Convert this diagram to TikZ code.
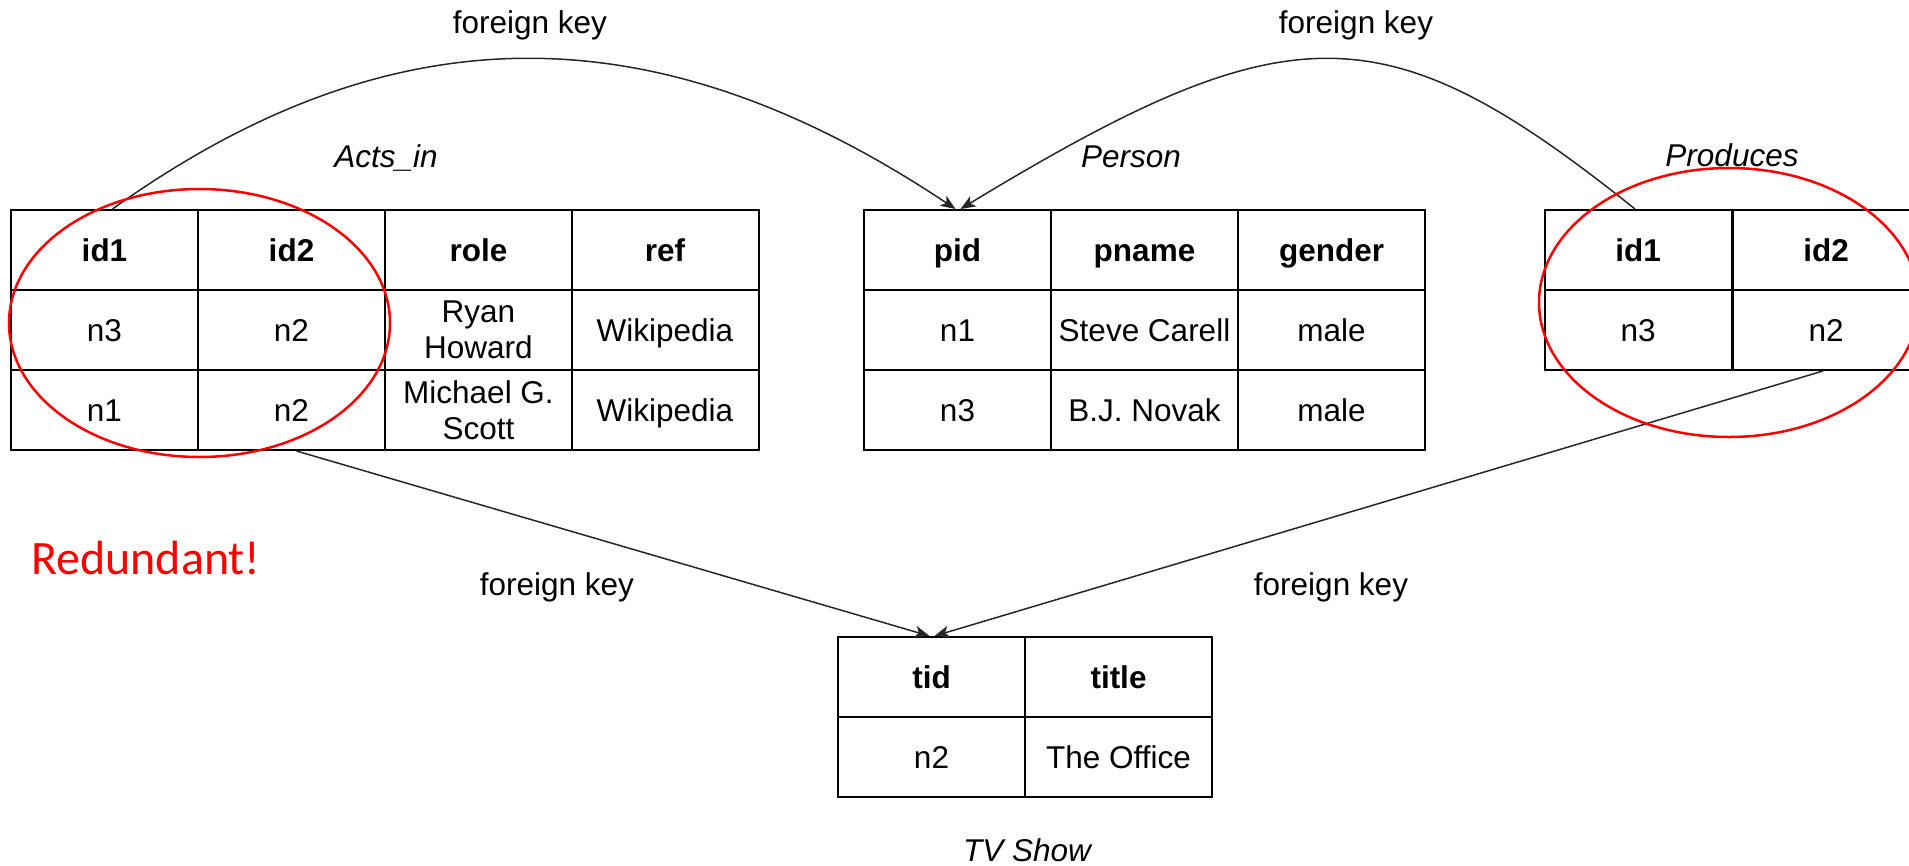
\documentclass[tikz,border=0pt]{standalone}
\usepackage{fontspec}
\setmainfont{Liberation Sans}
\newfontfamily\calibfont{Carlito}
\usetikzlibrary{arrows.meta}
\begin{document}
\begin{tikzpicture}[x=1pt,y=-1pt,
  txt/.style={font=\fontsize{31.5}{36}\selectfont},
  cellbase/.style={txt, draw=black, line width=2pt, minimum width=187pt,
    minimum height=80pt, inner sep=0pt, align=center},
  cell/.style={cellbase, text height=23pt, text depth=0pt},
  cellii/.style={cellbase},
  head/.style={cell, font=\fontsize{31.5}{36}\selectfont\bfseries},
  lbl/.style={txt, anchor=base, inner sep=0pt},
  tname/.style={lbl, font=\fontsize{31.5}{36}\selectfont\itshape},
  fk/.style={line width=1.5pt, draw=black!85,
    -{Stealth[length=15pt,width=12pt,inset=4pt]}},
  redring/.style={draw=red, line width=2.5pt}
]
\useasboundingbox (0,0) rectangle (1909,865);
\clip (0,0) rectangle (1909,865);

% Acts_in
\node[head] (a01) at (104.5,250) {id1};
\node[head] (a02) at (291.5,250) {id2};
\node[head] (a03) at (478.5,250) {role};
\node[head] (a04) at (665,250)   {ref};
\node[cell] (a11) at (104.5,330) {n3};
\node[cell] (a12) at (291.5,330) {n2};
\node[cellii] (a13) at (478.5,330) {Ryan\\Howard};
\node[cell] (a14) at (665,330)   {Wikipedia};
\node[cell] (a21) at (104.5,410) {n1};
\node[cell] (a22) at (291.5,410) {n2};
\node[cellii] (a23) at (478.5,410) {Michael G.\\Scott};
\node[cell] (a24) at (665,410)   {Wikipedia};

% Person
\node[head] (p01) at (957.5,250)  {pid};
\node[head] (p02) at (1144.5,250) {pname};
\node[head] (p03) at (1331.5,250) {gender};
\node[cell] (p11) at (957.5,330)  {n1};
\node[cell] (p12) at (1144.5,330) {Steve Carell};
\node[cell] (p13) at (1331.5,330) {male};
\node[cell] (p21) at (957.5,410)  {n3};
\node[cell] (p22) at (1144.5,410) {B.J. Novak};
\node[cell] (p23) at (1331.5,410) {male};

% Produces
\node[head] (r01) at (1638,250) {id1};
\node[head] (r02) at (1826,250) {id2};
\node[cell] (r11) at (1638,330) {n3};
\node[cell] (r12) at (1826,330) {n2};

% TV Show
\node[head] (t01) at (931.5,677)  {tid};
\node[head] (t02) at (1118.5,677) {title};
\node[cell] (t11) at (931.5,757)  {n2};
\node[cell] (t12) at (1118.5,757) {The Office};

% table names
\node[tname] (nA) at (386,167)  {Acts\_in};
\node[tname] (nP) at (1131,167) {Person};
\node[tname] (nR) at (1732,166) {Produces};
\node[tname] (nT) at (1027,861) {TV Show};

% foreign keys
\draw[fk] ([xshift=8pt]a01.north) .. controls +(280,-200) and +(-300,-200) .. ([xshift=-2pt]p01.north);
\draw[fk] ([xshift=-3pt]r01.north) .. controls +(-250,-200) and +(330,-200) .. ([xshift=3pt]p01.north);
\draw[fk] ([xshift=5pt]a22.south) -- ([xshift=-2pt]t01.north);
\draw[fk] ([xshift=-3pt]r12.south) -- ([xshift=3pt]t01.north);

\node[lbl] (fk1) at (530,33)   {foreign key};
\node[lbl] (fk2) at (1356,33)  {foreign key};
\node[lbl] (fk3) at (557,595)  {foreign key};
\node[lbl] (fk4) at (1331,595) {foreign key};

% duplicated key pairs
\draw[redring] (199.5,323) ellipse [x radius=190.5pt, y radius=134pt];
\draw[redring] (1729,302.5) ellipse [x radius=190pt, y radius=134.5pt];
\node[font=\calibfont\fontsize{48}{56}\selectfont, text=red, anchor=base west,
  inner sep=0pt] (red) at (31,574) {Redundant!};
\end{tikzpicture}
\end{document}
